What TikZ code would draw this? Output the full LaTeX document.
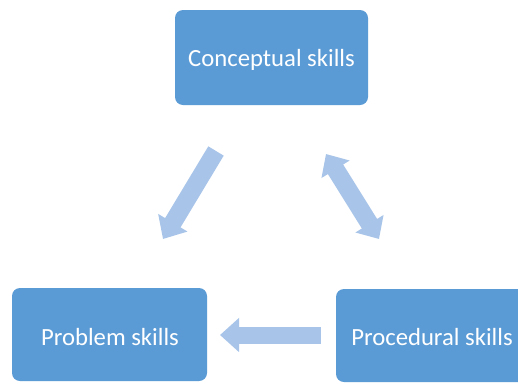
\documentclass[tikz,border=0pt]{standalone}
\usepackage{fontspec}
\setmainfont{Carlito}
\usetikzlibrary{arrows.meta}
\definecolor{boxblue}{RGB}{91,155,213}
\definecolor{arrowblue}{RGB}{168,197,233}
\tikzset{
  skillbox/.style={fill=boxblue, rounded corners=8pt, draw=none},
  skilltext/.style={text=white, font=\fontsize{24.7}{30}\selectfont},
  flow/.style={arrowblue, line width=18pt, -{Triangle[width=33pt,length=19pt]}},
  flowboth/.style={arrowblue, line width=18pt, {Triangle[width=32pt,length=18pt]}-{Triangle[width=32pt,length=18pt]}}
}
\begin{document}
\begin{tikzpicture}[x=1pt,y=-1pt]
\clip (0,0) rectangle (518,383);
\fill[white] (0,0) rectangle (518,383);

% boxes
\fill[skillbox] (175,10) rectangle (368,105);
\fill[skillbox] (12,288) rectangle (207,381);
\fill[skillbox] (336,289) rectangle (530,382);
\node[skilltext] (concept) at (271.5,60) {Conceptual skills};
\node[skilltext] (problem) at (110,337) {Problem skills};
\node[skilltext] (proced) at (432,337) {Procedural skills};

% arrows
\coordinate (a1s) at (216,151);
\coordinate (a1e) at (163,239);
\coordinate (a2s) at (326,154);
\coordinate (a2e) at (379,239);
\coordinate (a3s) at (321,335);
\coordinate (a3e) at (220,335);
\draw[flow] (a1s) -- (a1e);
\draw[flowboth] (a2s) -- (a2e);
\draw[flow, line width=17pt] (a3s) -- (a3e);
\end{tikzpicture}
\end{document}
